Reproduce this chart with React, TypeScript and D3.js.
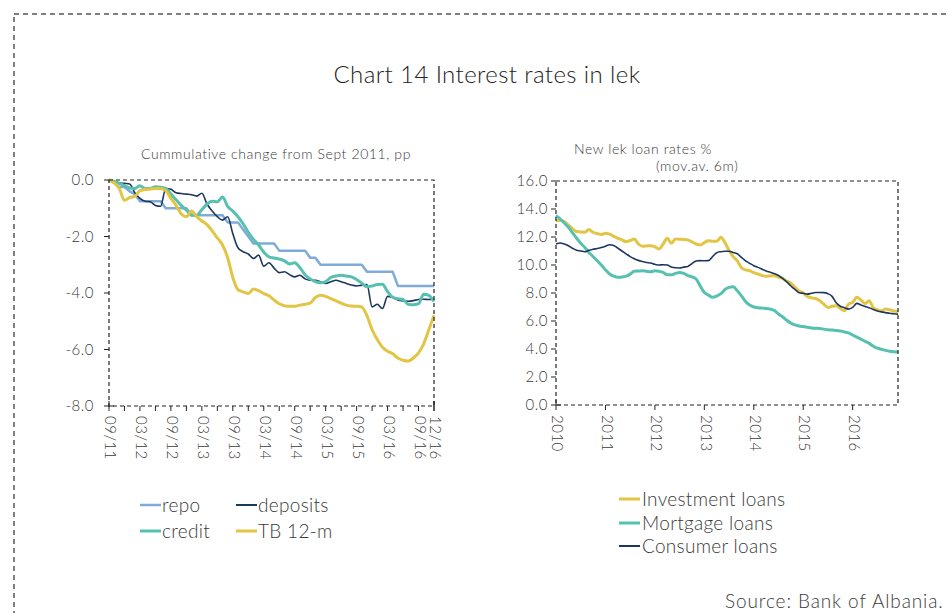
import React from "react";
import * as d3 from "d3";

// left panel: monthly, 09/2011 .. 12/2016, cumulative change in pp
const repo = [
  0, -0.1, -0.25, -0.25, -0.4, -0.5, -0.75, -0.75, -0.75, -0.75, -0.75,
  -1.0, -1.0, -1.0, -1.0, -1.0, -1.25, -1.25, -1.25, -1.25, -1.25, -1.25, -1.25,
  -1.5, -1.5, -1.5, -1.75, -2.0, -2.25, -2.25, -2.25, -2.25, -2.25,
  -2.5, -2.5, -2.5, -2.5, -2.5, -2.5, -2.75, -2.75,
  -3.0, -3.0, -3.0, -3.0, -3.0, -3.0, -3.0, -3.0, -3.0,
  -3.25, -3.25, -3.25, -3.25, -3.25, -3.25,
  -3.75, -3.75, -3.75, -3.75, -3.75, -3.75, -3.75, -3.75,
];
const deposits = [
  0, -0.05, -0.1, -0.12, -0.14, -0.45, -0.65, -0.75, -0.77, -0.9, -0.93,
  -0.3, -0.33, -0.45, -0.48, -0.5, -0.52, -0.57, -0.47, -0.85, -1.1, -1.3,
  -1.42, -1.3, -1.9, -2.4, -2.54, -2.62, -2.78, -2.66, -3.05, -2.93, -3.12,
  -3.28, -3.25, -3.35, -3.43, -3.37, -3.5, -3.55, -3.55, -3.6, -3.66, -3.6,
  -3.55, -3.6, -3.66, -3.72, -3.75, -3.72, -3.7, -4.49, -4.4, -4.55, -4.12,
  -4.16, -4.25, -4.28, -4.29, -4.27, -4.23, -4.22, -4.23, -4.2,
];
const credit = [
  0, -0.05, -0.12, -0.2, -0.28, -0.3, -0.2, -0.3, -0.3, -0.24, -0.26, -0.3,
  -0.5, -0.7, -0.9, -1.06, -1.25, -1.25, -1.05, -0.85, -0.75, -0.77, -0.6,
  -0.93, -1.1, -1.3, -1.55, -1.85, -2.1, -2.3, -2.55, -2.72, -2.76, -2.8,
  -2.86, -2.97, -2.93, -3.1, -3.35, -3.5, -3.6, -3.64, -3.6, -3.45, -3.4,
  -3.37, -3.4, -3.43, -3.52, -3.65, -3.78, -3.75, -3.7, -3.69, -3.95, -4.15,
  -4.2, -4.23, -4.4, -4.42, -4.38, -4.04, -4.08, -4.3,
];
const tb12m = [
  0, -0.1, -0.3, -0.72, -0.62, -0.58, -0.38, -0.34, -0.32, -0.3, -0.3, -0.38,
  -0.65, -0.9, -1.2, -1.3, -1.1, -1.3, -1.45, -1.58, -1.8, -2.05, -2.3,
  -2.75, -3.45, -3.88, -3.96, -4.02, -3.86, -3.92, -4.02, -4.1, -4.25, -4.38,
  -4.45, -4.47, -4.47, -4.43, -4.4, -4.36, -4.16, -4.08, -4.12, -4.2, -4.28,
  -4.36, -4.43, -4.46, -4.47, -4.5, -4.8, -5.3, -5.65, -5.92, -6.06, -6.15,
  -6.3, -6.38, -6.41, -6.3, -6.12, -5.8, -5.3, -4.79,
];
const leftTickMonths = [0, 6, 12, 18, 24, 30, 36, 42, 48, 54, 60, 63];
const leftTickLabels = ["09/11", "03/12", "09/12", "03/13", "09/13", "03/14", "09/14", "03/15", "09/15", "03/16", "09/16", "12/16"];
const leftYTicks = [0, -2, -4, -6, -8];

// right panel: monthly, 01/2010 .. 12/2016, %
const investment = [
  13.17, 13.17, 13.1, 12.85, 12.6, 12.39, 12.35, 12.34, 12.53, 12.34, 12.25,
  12.17, 12.27, 12.2, 12.05, 11.9, 11.8, 11.67, 11.75, 11.86, 11.5, 11.34,
  11.36, 11.38, 11.3, 11.15, 11.5, 11.91, 11.55, 11.86, 11.84, 11.82, 11.79,
  11.65, 11.5, 11.43, 11.6, 11.74, 11.7, 11.69, 11.98, 11.6, 11.03, 10.6,
  10.3, 9.8, 9.65, 9.59, 9.45, 9.36, 9.25, 9.19, 9.22, 9.24, 9.12, 9.05,
  8.85, 8.7, 8.4, 8.15, 8.0, 7.75, 7.65, 7.61, 7.45, 7.2, 6.97, 7.05, 7.09,
  6.9, 6.73, 7.21, 7.33, 7.69, 7.5, 7.25, 7.45, 6.95, 6.8, 6.73, 6.85, 6.8,
  6.72, 6.68,
];
const mortgage = [
  13.53, 13.3, 13.0, 12.7, 12.3, 11.91, 11.55, 11.25, 10.9, 10.6, 10.3, 10.0,
  9.65, 9.36, 9.2, 9.12, 9.14, 9.2, 9.35, 9.55, 9.57, 9.59, 9.55, 9.52, 9.59,
  9.55, 9.47, 9.3, 9.3, 9.4, 9.47, 9.4, 9.24, 9.15, 9.0, 8.5, 8.04, 7.85,
  7.69, 7.78, 7.95, 8.25, 8.4, 8.45, 8.16, 7.8, 7.4, 7.15, 7.0, 6.95, 6.92,
  6.9, 6.85, 6.75, 6.5, 6.3, 6.05, 5.85, 5.72, 5.64, 5.6, 5.55, 5.5, 5.48,
  5.47, 5.42, 5.37, 5.35, 5.32, 5.28, 5.22, 5.15, 5.0, 4.85, 4.7, 4.55, 4.4,
  4.2, 4.06, 3.98, 3.9, 3.84, 3.8, 3.79,
];
const consumer = [
  11.5, 11.57, 11.5, 11.38, 11.2, 11.05, 11.0, 10.95, 11.05, 11.12, 11.18,
  11.25, 11.34, 11.45, 11.4, 11.2, 11.0, 10.8, 10.6, 10.45, 10.33, 10.25,
  10.18, 10.14, 10.05, 10.0, 10.02, 10.0, 9.85, 9.8, 9.79, 9.85, 9.9, 10.1,
  10.28, 10.31, 10.3, 10.31, 10.6, 10.88, 10.95, 10.98, 10.98, 10.9, 10.8,
  10.55, 10.3, 10.12, 9.95, 9.83, 9.7, 9.58, 9.48, 9.38, 9.25, 9.05, 8.8,
  8.5, 8.25, 8.02, 7.98, 7.92, 7.98, 8.04, 8.04, 8.03, 7.95, 7.76, 7.3, 7.05,
  6.95, 6.85, 6.97, 7.26, 7.15, 7.04, 6.95, 6.82, 6.72, 6.65, 6.6, 6.55,
  6.52, 6.49,
];
const rightTickMonths = [0, 12, 24, 36, 48, 60, 72];
const rightTickLabels = ["2010", "2011", "2012", "2013", "2014", "2015", "2016"];
const rightYTicks = [0, 2, 4, 6, 8, 10, 12, 14, 16];

const YELLOW = "#e2c544";
const TEAL = "#56c1b0";
const NAVY = "#1d365f";
const LIGHTBLUE = "#7eabd7";
const TEXT = "#3a3a3a";
const FONT = "Lato, 'Open Sans', sans-serif";

export default function App() {
  const W = 948, H = 613;

  // left panel scales
  const lx = d3.scaleLinear().domain([0, 63]).range([109, 434]);
  const ly = d3.scaleLinear().domain([-8, 0]).range([406, 180]);
  // right panel scales
  const rx = d3.scaleLinear().domain([0, 83]).range([556, 898]);
  const ry = d3.scaleLinear().domain([0, 16]).range([405, 181]);

  const leftLine = (curve: any) =>
    d3.line<number>().x((_, i) => lx(i)).y((d) => ly(d)).curve(curve);
  const rightLine = d3
    .line<number>()
    .x((_, i) => rx(i))
    .y((d) => ry(d))
    .curve(d3.curveMonotoneX);

  const leftSeries = [
    { data: repo, color: LIGHTBLUE, w: 2.5, curve: d3.curveLinear },
    { data: deposits, color: NAVY, w: 1.6, curve: d3.curveMonotoneX },
    { data: credit, color: TEAL, w: 3, curve: d3.curveMonotoneX },
    { data: tb12m, color: YELLOW, w: 3, curve: d3.curveMonotoneX },
  ];
  const rightSeries = [
    { data: investment, color: YELLOW, w: 3 },
    { data: mortgage, color: TEAL, w: 3 },
    { data: consumer, color: NAVY, w: 1.6 },
  ];

  const dash = "4,3";
  const axisColor = "#222";
  const minorLeft = d3.range(0, 64, 3);

  return (
    <svg
      width={W}
      height={H}
      style={{ position: "absolute", left: 0, top: 0, background: "#fff" }}
      fontFamily={FONT}
      fontWeight={300}
    >
      <rect x={0} y={0} width={W} height={H} fill="#fff" />
      {/* outer dashed frame */}
      <rect x={14} y={14} width={W} height={H} fill="none" stroke="#555" strokeWidth={1.5} strokeDasharray="5,4" />

      <text x={487} y={83} textAnchor="middle" fontSize={24} letterSpacing={0.4} fill="#222">
        Chart 14 Interest rates in lek
      </text>

      {/* ===== left panel ===== */}
      <text x={276} y={159} textAnchor="middle" fontSize={14} letterSpacing={0.6} fill={TEXT}>
        Cummulative change from Sept  2011, pp
      </text>
      {leftSeries.map((s, k) => (
        <path key={k} d={leftLine(s.curve)(s.data) || ""} fill="none" stroke={s.color} strokeWidth={s.w} strokeLinejoin="round" />
      ))}
      <rect x={lx(0)} y={ly(0)} width={lx(63) - lx(0)} height={ly(-8) - ly(0)} fill="none" stroke={axisColor} strokeWidth={1.2} strokeDasharray={dash} />
      {leftYTicks.map((t) => (
        <g key={t}>
          <line x1={lx(0) - 5} x2={lx(0) + (t === -8 ? 5 : 0)} y1={ly(t)} y2={ly(t)} stroke={axisColor} />
          <text x={94} y={ly(t)} dy="0.35em" textAnchor="end" fontSize={15} letterSpacing={0.5} fill={TEXT}>
            {t.toFixed(1)}
          </text>
        </g>
      ))}
      {minorLeft.concat([63]).map((m) => (
        <line key={m} x1={lx(m)} x2={lx(m)} y1={ly(-8) - (m === 0 || m === 63 ? 5 : 0)} y2={ly(-8) + 5} stroke={axisColor} />
      ))}
      {leftTickMonths.map((m, i) => (
        <text key={m} transform={`translate(${lx(m)},${416}) rotate(90)`} dominantBaseline="middle" fontSize={15} letterSpacing={0.5} fill={TEXT}>
          {leftTickLabels[i]}
        </text>
      ))}
      {/* left legend */}
      {[
        { label: "repo", color: LIGHTBLUE, w: 2.5, x: 140, y: 505 },
        { label: "deposits", color: NAVY, w: 2, x: 236, y: 505 },
        { label: "credit", color: TEAL, w: 3, x: 140, y: 531 },
        { label: "TB 12-m", color: YELLOW, w: 3, x: 236, y: 531 },
      ].map((l) => (
        <g key={l.label}>
          <line x1={l.x} x2={l.x + 21} y1={l.y} y2={l.y} stroke={l.color} strokeWidth={l.w} />
          <text x={l.x + 22} y={l.y} dy="0.35em" fontSize={19} letterSpacing={0.3} fill={TEXT}>
            {l.label}
          </text>
        </g>
      ))}

      {/* ===== right panel ===== */}
      <text x={574} y={154} fontSize={14} letterSpacing={0.6} fill={TEXT}>
        New lek loan rates %
      </text>
      <text x={656} y={171} fontSize={14} letterSpacing={0.6} fill={TEXT}>
        (mov.av. 6m)
      </text>
      {rightSeries.map((s, k) => (
        <path key={k} d={rightLine(s.data) || ""} fill="none" stroke={s.color} strokeWidth={s.w} strokeLinejoin="round" />
      ))}
      <rect x={rx(0)} y={ry(16)} width={rx(83) - rx(0)} height={ry(0) - ry(16)} fill="none" stroke={axisColor} strokeWidth={1.2} strokeDasharray={dash} />
      {rightYTicks.map((t) => (
        <g key={t}>
          <line x1={rx(0) - 5} x2={rx(0) + (t === 0 ? 5 : 0)} y1={ry(t)} y2={ry(t)} stroke={axisColor} />
          <text x={548} y={ry(t)} dy="0.35em" textAnchor="end" fontSize={15} letterSpacing={0.5} fill={TEXT}>
            {t.toFixed(1)}
          </text>
        </g>
      ))}
      {rightTickMonths.map((m, i) => (
        <g key={m}>
          <line x1={rx(m)} x2={rx(m)} y1={ry(0) - (m === 0 ? 5 : 0)} y2={ry(0) + 5} stroke={axisColor} />
          <text transform={`translate(${rx(m)},${415}) rotate(90)`} dominantBaseline="middle" fontSize={15} letterSpacing={0.5} fill={TEXT}>
            {rightTickLabels[i]}
          </text>
        </g>
      ))}
      {/* right legend */}
      {[
        { label: "Investment loans", color: YELLOW, w: 3, y: 499 },
        { label: "Mortgage loans", color: TEAL, w: 3, y: 523 },
        { label: "Consumer loans", color: NAVY, w: 2, y: 546 },
      ].map((l) => (
        <g key={l.label}>
          <line x1={619} x2={640} y1={l.y} y2={l.y} stroke={l.color} strokeWidth={l.w} />
          <text x={642} y={l.y} dy="0.35em" fontSize={19} letterSpacing={0.3} fill={TEXT}>
            {l.label}
          </text>
        </g>
      ))}

      <text x={725} y={608} fontSize={19} letterSpacing={0.9} fill={TEXT}>
        Source: Bank of Albania.
      </text>
    </svg>
  );
}
